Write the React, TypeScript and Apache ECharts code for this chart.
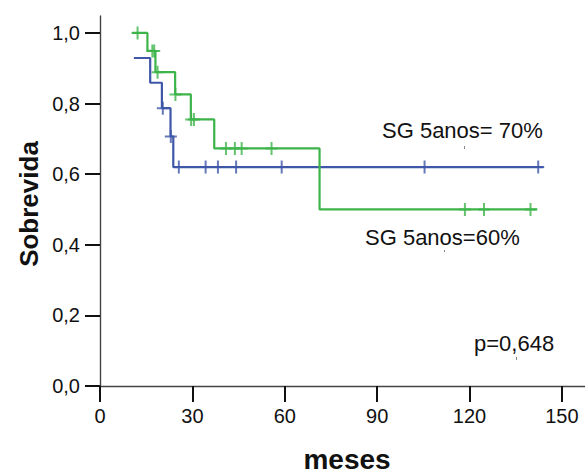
import React, { useEffect, useRef } from "react";
import * as echarts from "echarts";

// Kaplan-Meier step points [months, survival]
const blueSteps: number[][] = [
  [11.0, 0.929],
  [16.3, 0.859],
  [20.1, 0.787],
  [22.9, 0.707],
  [23.8, 0.62],
  [144.0, 0.62],
];
const greenSteps: number[][] = [
  [10.5, 1.0],
  [15.4, 0.949],
  [18.0, 0.889],
  [24.4, 0.826],
  [29.5, 0.755],
  [37.1, 0.673],
  [71.3, 0.5],
  [142.0, 0.5],
];
// Censored observations
const blueCensored: number[][] = [
  [20.4, 0.787],
  [23.0, 0.707],
  [25.6, 0.62],
  [34.3, 0.62],
  [38.3, 0.62],
  [44.2, 0.62],
  [59.0, 0.62],
  [105.4, 0.62],
  [142.3, 0.62],
];
const greenCensored: number[][] = [
  [12.2, 1.0],
  [17.0, 0.949],
  [17.6, 0.949],
  [18.7, 0.889],
  [24.5, 0.826],
  [29.6, 0.755],
  [30.5, 0.755],
  [40.9, 0.673],
  [43.8, 0.673],
  [46.0, 0.673],
  [55.7, 0.673],
  [118.5, 0.5],
  [124.7, 0.5],
  [139.8, 0.5],
];
const xTicks = [0, 30, 60, 90, 120, 150];
const yTicks = [0, 0.2, 0.4, 0.6, 0.8, 1.0];
const labelHigh = "SG 5anos= 70%";
const labelLow = "SG 5anos=60%";
const pValue = "p=0,648";

const BLUE = "#3F57A8";
const GREEN = "#3CB44A";
const FONT = "'Liberation Sans', Arial, sans-serif";
const PLUS = "path://M-1,-6.5H1V-1H6V1H1V6.5H-1V1H-6V-1H-1Z";

export default function App() {
  const ref = useRef<HTMLDivElement>(null);
  useEffect(() => {
    document.body.style.margin = "0";
    if (!ref.current) return;
    const chart = echarts.init(ref.current, null, { renderer: "svg" });
    chart.setOption({
      animation: false,
      backgroundColor: "#ffffff",
      grid: { left: 100, right: 0, top: 16, bottom: 87, containLabel: false },
      xAxis: {
        type: "value",
        min: 0,
        max: 157.5,
        splitLine: { show: false },
        axisLine: { show: true, lineStyle: { color: "#444", width: 1.4 } },
        axisTick: {
          show: true,
          length: 16,
          customValues: xTicks,
          lineStyle: { color: "#111", width: 2 },
        },
        axisLabel: {
          customValues: xTicks,
          margin: 20,
          color: "#111",
          fontSize: 20,
          fontFamily: FONT,
        },
      },
      yAxis: {
        type: "value",
        min: 0,
        max: 1.048,
        splitLine: { show: false },
        axisLine: { show: true, lineStyle: { color: "#444", width: 1.4 } },
        axisTick: {
          show: true,
          length: 15,
          customValues: yTicks,
          lineStyle: { color: "#111", width: 2 },
        },
        axisLabel: {
          customValues: yTicks,
          margin: 20,
          color: "#111",
          fontSize: 20,
          fontFamily: FONT,
          formatter: (v: number) => v.toFixed(1).replace(".", ","),
        },
      },
      series: [
        {
          type: "line",
          step: "end",
          data: blueSteps,
          showSymbol: false,
          lineStyle: { color: BLUE, width: 2.2 },
          itemStyle: { color: BLUE },
        },
        {
          type: "line",
          step: "end",
          data: greenSteps,
          showSymbol: false,
          lineStyle: { color: GREEN, width: 2.2 },
          itemStyle: { color: GREEN },
        },
        {
          type: "scatter",
          data: blueCensored,
          symbol: PLUS,
          symbolSize: [12, 13],
          itemStyle: { color: BLUE },
        },
        {
          type: "scatter",
          data: greenCensored,
          symbol: PLUS,
          symbolSize: [12, 13],
          itemStyle: { color: GREEN },
        },
      ],
      graphic: [
        {
          type: "text",
          x: 382,
          y: 130.4,
          style: {
            text: labelHigh,
            fontSize: 22,
            fontFamily: FONT,
            fill: "#111",
            align: "left",
            verticalAlign: "middle",
          },
        },
        {
          type: "text",
          x: 365,
          y: 237.4,
          style: {
            text: labelLow,
            fontSize: 22,
            fontFamily: FONT,
            fill: "#111",
            align: "left",
            verticalAlign: "middle",
          },
        },
        {
          type: "text",
          x: 474,
          y: 343.4,
          style: {
            text: pValue,
            fontSize: 22,
            fontFamily: FONT,
            fill: "#111",
            align: "left",
            verticalAlign: "middle",
          },
        },
        { type: "rect", shape: { x: 464, y: 146, width: 1, height: 3 }, style: { fill: "#888" } },
        { type: "rect", shape: { x: 444, y: 250, width: 1, height: 2 }, style: { fill: "#888" } },
        { type: "rect", shape: { x: 516, y: 357, width: 1, height: 3 }, style: { fill: "#888" } },
        {
          type: "text",
          x: 347,
          y: 459,
          style: {
            text: "meses",
            fontSize: 28,
            fontWeight: "bold",
            fontFamily: FONT,
            fill: "#111",
            align: "center",
            verticalAlign: "middle",
          },
        },
        {
          type: "text",
          x: 29,
          y: 204,
          rotation: Math.PI / 2,
          style: {
            text: "Sobrevida",
            fontSize: 26,
            fontWeight: "bold",
            fontFamily: FONT,
            fill: "#111",
            align: "center",
            verticalAlign: "middle",
          },
        },
      ],
    });
    return () => chart.dispose();
  }, []);
  return <div ref={ref} style={{ width: 585, height: 473 }} />;
}
